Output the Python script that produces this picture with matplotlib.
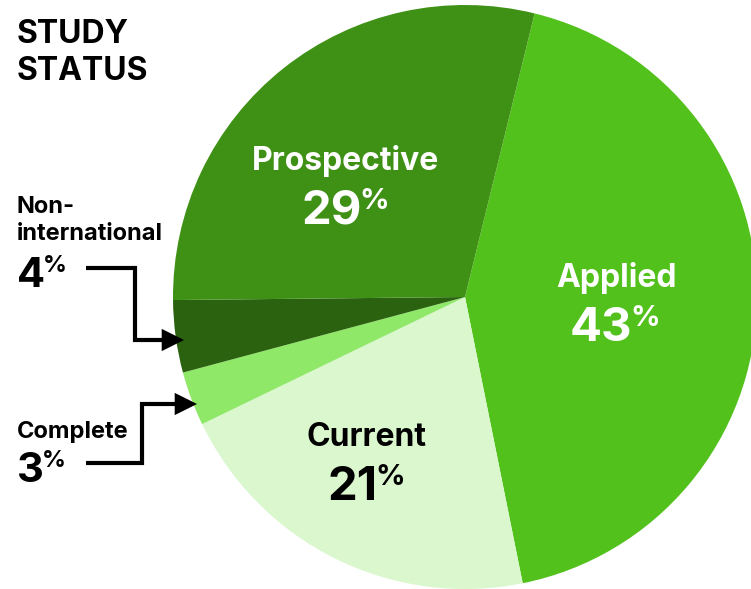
import matplotlib.pyplot as plt
from matplotlib.patches import FancyArrowPatch
from matplotlib.path import Path

# data (clockwise from the top)
categories = ['Applied', 'Current', 'Complete', 'Non-international', 'Prospective']
shares = [43, 21, 3, 4, 29]
slice_colors = ['#52c11c', '#daf7ce', '#90e868', '#2a6210', '#3f9116']
title_lines = ['STUDY', 'STATUS']

W, H = 751, 589
plt.rcParams['font.family'] = ['Inter', 'Roboto', 'DejaVu Sans']

fig = plt.figure(figsize=(W / 100, H / 100), dpi=100)
ax = fig.add_axes([0, 0, 1, 1])

ax.pie(shares, colors=slice_colors, startangle=76.2, counterclock=False,
       center=(465, H - 297), radius=292, wedgeprops=dict(linewidth=0))
ax.set_xlim(0, W)
ax.set_ylim(0, H)
ax.set_aspect('equal')
ax.axis('off')

pct_texts = []


def pct_label(x, y, value, num_size, sup_size, color, centered=True):
    """Number with a small raised % sign; (x, y) in image pixels (y down)."""
    num = ax.text(x, H - y, str(value), ha='center' if centered else 'left',
                  va='baseline', fontsize=num_size, fontweight='bold', color=color)
    sup = ax.annotate('%', xy=(1, 1), xycoords=num, xytext=(-1.5, 1.5),
                      textcoords='offset points', ha='left', va='top',
                      fontsize=sup_size, fontweight='bold', color=color)
    if centered:
        pct_texts.append((num, sup, x))


def name_label(x, y, text, size, color, ha='center'):
    ax.text(x, H - y, text, ha=ha, va='baseline', fontsize=size,
            fontweight='bold', color=color)


# title
for i, line in enumerate(title_lines):
    name_label(17, 43 + i * 37, line, 23, 'black', ha='left')

# labels inside the big slices
inside = {
    'Prospective': (346, 170, 224, 'white'),
    'Applied': (616, 287, 341, 'white'),
    'Current': (367, 446, 500, 'black'),
}
for cat, (x, y_name, y_num, col) in inside.items():
    name_label(x, y_name, cat, 23, col)
    pct_label(x, y_num, shares[categories.index(cat)], 34, 21, col)

# small slices: labels on the left with elbow arrows
name_label(17, 213, 'Non-', 17, 'black', ha='left')
name_label(17, 240, 'international', 17, 'black', ha='left')
pct_label(17, 287, shares[categories.index('Non-international')], 30, 17, 'black', centered=False)

name_label(17, 438, 'Complete', 17, 'black', ha='left')
pct_label(17, 482, shares[categories.index('Complete')], 30, 17, 'black', centered=False)

arrow_paths = [
    [(86, 268), (135, 268), (135, 340), (184, 340)],
    [(86, 463), (142, 463), (142, 404), (197, 404)],
]
for pts in arrow_paths:
    verts = [(x, H - y) for x, y in pts]
    path = Path(verts, [Path.MOVETO] + [Path.LINETO] * (len(verts) - 1))
    ax.add_patch(FancyArrowPatch(path=path, arrowstyle='-|>,head_length=0.8,head_width=0.4',
                                 mutation_scale=14, lw=3, color='black',
                                 joinstyle='miter', capstyle='butt'))

# center the "number + %" groups under their names
fig.canvas.draw()
renderer = fig.canvas.get_renderer()
for num, sup, x in pct_texts:
    w = sup.get_window_extent(renderer).width
    num.set_x(x - w / 2)

fig.savefig('out.png', dpi=100)
